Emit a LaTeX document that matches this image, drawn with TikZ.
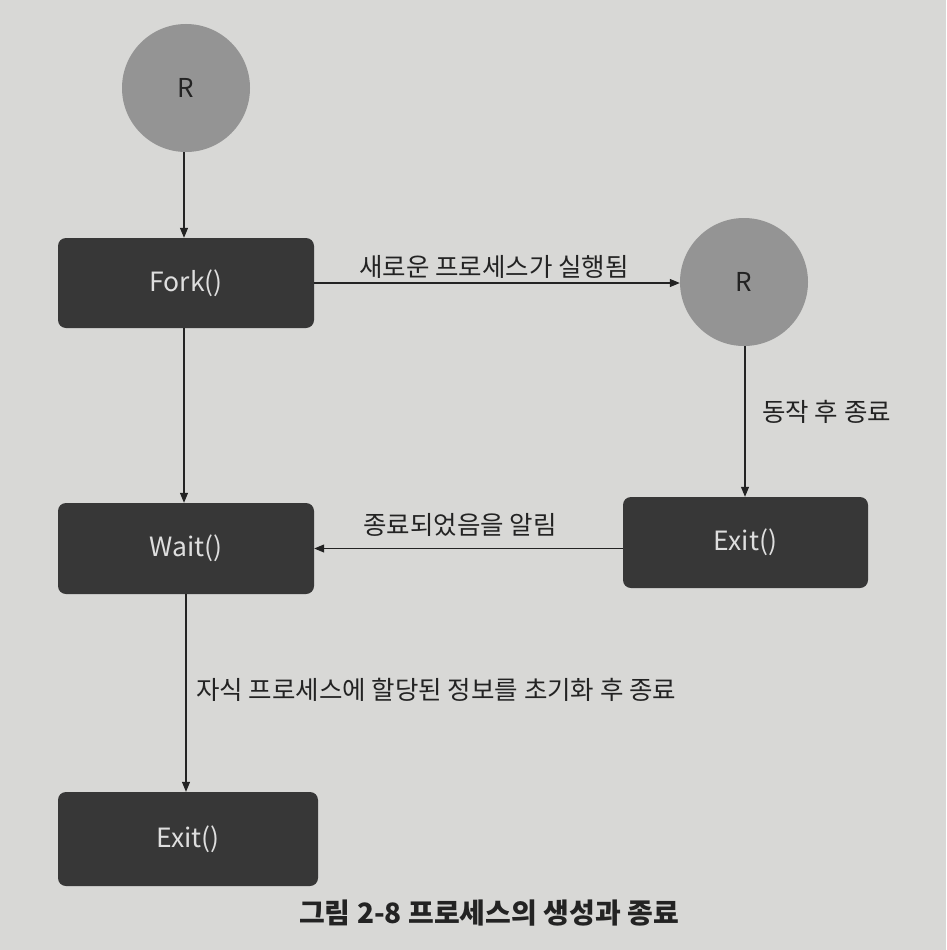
\documentclass[tikz,border=0pt]{standalone}
\usepackage{fontspec}
\setmainfont{Noto Sans CJK KR}
\usetikzlibrary{arrows.meta}
\definecolor{pagebg}{RGB}{216,216,214}
\definecolor{circfill}{RGB}{148,148,148}
\definecolor{boxfill}{RGB}{55,55,55}
\definecolor{boxtext}{RGB}{222,222,222}
\definecolor{ink}{RGB}{35,35,35}
\tikzset{
  procbox/.style={draw=none, fill=boxfill, rounded corners=8pt, text=boxtext,
    font=\fontsize{26.5}{30}\selectfont, inner sep=0pt},
  rcirc/.style={circle, fill=circfill, draw=none, minimum size=128pt, inner sep=0pt,
    text=ink, font=\fontsize{26}{30}\selectfont},
  conn/.style={draw=ink, line width=1.1pt, -{Triangle[width=8pt,length=10pt]}},
  lbl/.style={text=ink, font=\fontsize{25.5}{30}\selectfont, inner sep=0pt}
}
\begin{document}
\begin{tikzpicture}[x=1pt,y=-1pt]
\fill[pagebg] (0,0) rectangle (946,950);
\useasboundingbox (0,0) rectangle (946,950);

\node[rcirc] (R1) at (186,88) {R};
\node[procbox, minimum width=256pt, minimum height=90pt] (Fork) at (186,283) {Fork()};
\node[rcirc] (R2) at (744,282) {R};
\node[procbox, minimum width=245pt, minimum height=91pt] (ExitR) at (745.5,542.5) {Exit()};
\node[procbox, minimum width=256pt, minimum height=91pt] (Wait) at (186,548.5) {Wait()};
\node[procbox, minimum width=260pt, minimum height=94pt] (ExitB) at (188,839) {Exit()};

\draw[conn] (R1.south -| 184,0) -- (Fork.north -| 184,0);
\draw[conn] (Fork.south -| 184,0) -- (Wait.north -| 184,0);
\draw[conn] (Fork.east) -- (Fork.east -| R2.west);
\draw[conn] (R2.south -| 745,0) -- (ExitR.north -| 745,0);
\draw[conn] (ExitR.west |- Wait.east) -- (Wait.east);
\draw[conn] (Wait.south -| 186,0) -- (ExitB.north -| 186,0);

\node[lbl] (l1) at (494,267) {새로운 프로세스가 실행됨};
\node[lbl, anchor=west] (l2) at (762,412) {동작 후 종료};
\node[lbl] (l3) at (460,525) {종료되었음을 알림};
\node[lbl, anchor=west] (l4) at (196,690) {자식 프로세스에 할당된 정보를 초기화 후 종료};
\node[text=ink, inner sep=0pt, font=\fontsize{28}{32}\selectfont\bfseries] (cap) at (489,913) {그림 2-8 프로세스의 생성과 종료};
\end{tikzpicture}
\end{document}
